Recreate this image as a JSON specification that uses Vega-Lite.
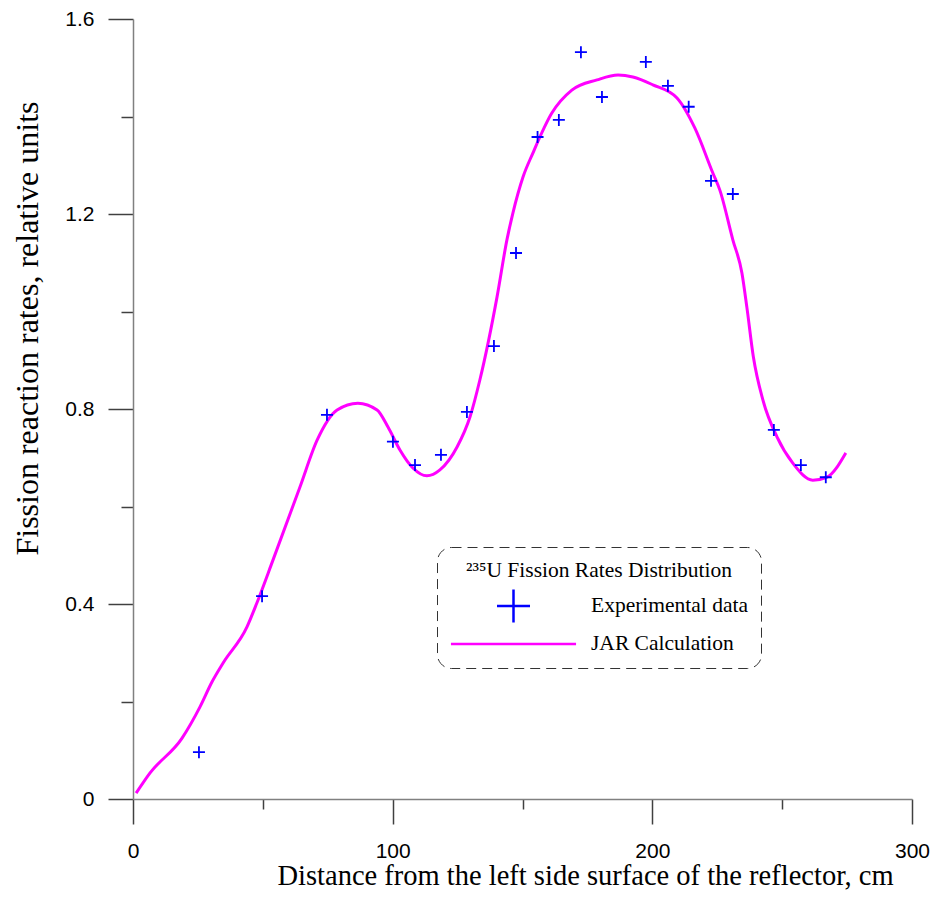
{
  "$schema": "https://vega.github.io/schema/vega-lite/v6.json",
  "width": 779,
  "height": 780,
  "autosize": {"type": "none"},
  "padding": {"left": 133, "top": 19, "right": 24, "bottom": 99},
  "background": "white",
  "config": {
    "view": {"stroke": null},
    "axis": {"grid": false},
    "legend": {"titleLimit": 500, "labelLimit": 400, "strokeDash": [10, 6], "strokeWidth": 1}
  },
  "datasets": {
    "exp": [
      {"x": 25.4, "y": 0.096, "series": "Experimental data"},
      {"x": 49.7, "y": 0.416, "series": "Experimental data"},
      {"x": 74.7, "y": 0.788, "series": "Experimental data"},
      {"x": 100.1, "y": 0.733, "series": "Experimental data"},
      {"x": 108.6, "y": 0.685, "series": "Experimental data"},
      {"x": 118.6, "y": 0.706, "series": "Experimental data"},
      {"x": 128.6, "y": 0.794, "series": "Experimental data"},
      {"x": 139.0, "y": 0.929, "series": "Experimental data"},
      {"x": 147.5, "y": 1.12, "series": "Experimental data"},
      {"x": 155.8, "y": 1.358, "series": "Experimental data"},
      {"x": 164.0, "y": 1.393, "series": "Experimental data"},
      {"x": 172.5, "y": 1.532, "series": "Experimental data"},
      {"x": 180.6, "y": 1.44, "series": "Experimental data"},
      {"x": 197.5, "y": 1.512, "series": "Experimental data"},
      {"x": 206.0, "y": 1.463, "series": "Experimental data"},
      {"x": 214.0, "y": 1.42, "series": "Experimental data"},
      {"x": 222.6, "y": 1.268, "series": "Experimental data"},
      {"x": 231.0, "y": 1.241, "series": "Experimental data"},
      {"x": 246.8, "y": 0.757, "series": "Experimental data"},
      {"x": 257.2, "y": 0.685, "series": "Experimental data"},
      {"x": 266.8, "y": 0.66, "series": "Experimental data"}
    ],
    "calc": [
      {"x": 1.2, "y": 0.012},
      {"x": 6.5, "y": 0.053},
      {"x": 18.9, "y": 0.125},
      {"x": 25.8, "y": 0.189},
      {"x": 30.4, "y": 0.24},
      {"x": 34.7, "y": 0.279},
      {"x": 43.9, "y": 0.353},
      {"x": 47.7, "y": 0.402},
      {"x": 53.9, "y": 0.49},
      {"x": 64.3, "y": 0.64},
      {"x": 70.9, "y": 0.736},
      {"x": 78.6, "y": 0.798},
      {"x": 86.6, "y": 0.812},
      {"x": 94.0, "y": 0.798},
      {"x": 98.2, "y": 0.763},
      {"x": 102.8, "y": 0.716},
      {"x": 107.8, "y": 0.679},
      {"x": 113.2, "y": 0.663},
      {"x": 118.2, "y": 0.675},
      {"x": 124.8, "y": 0.722},
      {"x": 129.8, "y": 0.784},
      {"x": 133.6, "y": 0.86},
      {"x": 140.2, "y": 1.03},
      {"x": 144.0, "y": 1.147},
      {"x": 146.3, "y": 1.202},
      {"x": 150.2, "y": 1.276},
      {"x": 154.0, "y": 1.325},
      {"x": 161.3, "y": 1.407},
      {"x": 169.0, "y": 1.454},
      {"x": 178.7, "y": 1.475},
      {"x": 186.8, "y": 1.485},
      {"x": 192.5, "y": 1.481},
      {"x": 200.2, "y": 1.465},
      {"x": 209.5, "y": 1.438},
      {"x": 216.4, "y": 1.376},
      {"x": 223.3, "y": 1.284},
      {"x": 226.0, "y": 1.249},
      {"x": 231.0, "y": 1.147},
      {"x": 234.5, "y": 1.079},
      {"x": 236.4, "y": 1.009},
      {"x": 238.9, "y": 0.907},
      {"x": 242.6, "y": 0.818},
      {"x": 248.0, "y": 0.743},
      {"x": 254.1, "y": 0.689},
      {"x": 261.8, "y": 0.654},
      {"x": 267.2, "y": 0.66},
      {"x": 274.5, "y": 0.71}
    ]
  },
  "layer": [
    {
      "data": {"name": "calc"},
      "mark": {"type": "line", "color": "#ff00ff", "strokeWidth": 3, "interpolate": "monotone"},
      "encoding": {
        "x": {
          "field": "x", "type": "quantitative",
          "scale": {"domain": [0, 300], "nice": false, "zero": false},
          "axis": {
            "values": [0, 50, 100, 150, 200, 250, 300],
            "labelExpr": "datum.value % 100 === 0 ? format(datum.value, 'd') : ''",
            "tickSize": {"condition": {"test": "datum.value % 100 === 0", "value": 25}, "value": 10},
            "labelPadding": 16,
            "labelFont": "Liberation Sans", "labelFontSize": 21, "labelColor": "#000000",
            "labelFlush": false, "labelOverlap": false,
            "domainColor": "#808080", "domainWidth": 1.5,
            "tickColor": "#404040", "tickWidth": 1.5,
            "title": "Distance from the left side surface of the reflector, cm",
            "titleFont": "Liberation Serif", "titleFontSize": 28.5, "titleFontWeight": "normal", "titleColor": "#000000",
            "titleX": 452, "titleY": 76, "titleAlign": "center", "titleBaseline": "middle"
          }
        },
        "y": {
          "field": "y", "type": "quantitative",
          "scale": {"domain": [0, 1.6], "nice": false, "zero": false},
          "axis": {
            "values": [0, 0.2, 0.4, 0.6, 0.8, 1.0, 1.2, 1.4, 1.6],
            "labelExpr": "abs(round(datum.value * 2.5) - datum.value * 2.5) < 0.01 ? format(datum.value, '~g') : ''",
            "tickSize": {"condition": {"test": "abs(round(datum.value * 2.5) - datum.value * 2.5) < 0.01", "value": 25}, "value": 12},
            "labelPadding": 14,
            "labelFont": "Liberation Sans", "labelFontSize": 21, "labelColor": "#000000",
            "labelFlush": false, "labelOverlap": false,
            "domainColor": "#808080", "domainWidth": 1.5,
            "tickColor": "#404040", "tickWidth": 1.5,
            "title": "Fission reaction rates, relative units",
            "titleFont": "Liberation Serif", "titleFontSize": 32, "titleFontWeight": "normal", "titleColor": "#000000",
            "titleX": -106, "titleY": 309, "titleAlign": "center", "titleBaseline": "middle"
          }
        }
      }
    },
    {
      "data": {"name": "exp"},
      "mark": {"type": "point", "filled": false, "size": 119, "strokeWidth": 1.8, "opacity": 1},
      "encoding": {
        "x": {"field": "x", "type": "quantitative"},
        "y": {"field": "y", "type": "quantitative"},
        "color": {
          "field": "series", "type": "nominal",
          "scale": {"domain": ["Experimental data", "JAR Calculation"], "range": ["#0000ff", "#ff00ff"]},
          "legend": {
            "orient": "none", "legendX": 304, "legendY": 528,
            "title": "²³⁵U Fission Rates Distribution",
            "titleFont": "Liberation Serif", "titleFontSize": 21.5, "titleFontWeight": "normal", "titleColor": "#000000",
            "titleAnchor": "middle", "titlePadding": 8, "titleLimit": 500,
            "labelFont": "Liberation Serif", "labelFontSize": 21.5, "labelColor": "#000000", "labelLimit": 400,
            "labelOffset": 61, "symbolOffset": 47, "symbolSize": 900, "symbolStrokeWidth": 2.5,
            "padding": 13, "cornerRadius": 14, "strokeColor": "#333333", "rowPadding": 0
          }
        },
        "shape": {
          "field": "series", "type": "nominal",
          "scale": {"domain": ["Experimental data", "JAR Calculation"], "range": ["M-1.1,0L1.1,0M0,-1.1L0,1.1", "M-4.17,0L4.17,0"]},
          "legend": {
            "orient": "none", "legendX": 304, "legendY": 528,
            "title": "²³⁵U Fission Rates Distribution",
            "titleFont": "Liberation Serif", "titleFontSize": 21.5, "titleFontWeight": "normal", "titleColor": "#000000",
            "titleAnchor": "middle", "titlePadding": 8, "titleLimit": 500,
            "labelFont": "Liberation Serif", "labelFontSize": 21.5, "labelColor": "#000000", "labelLimit": 400,
            "labelOffset": 61, "symbolOffset": 47, "symbolSize": 900, "symbolStrokeWidth": 2.5,
            "padding": 13, "cornerRadius": 14, "strokeColor": "#333333", "rowPadding": 0
          }
        }
      }
    }
  ]
}
